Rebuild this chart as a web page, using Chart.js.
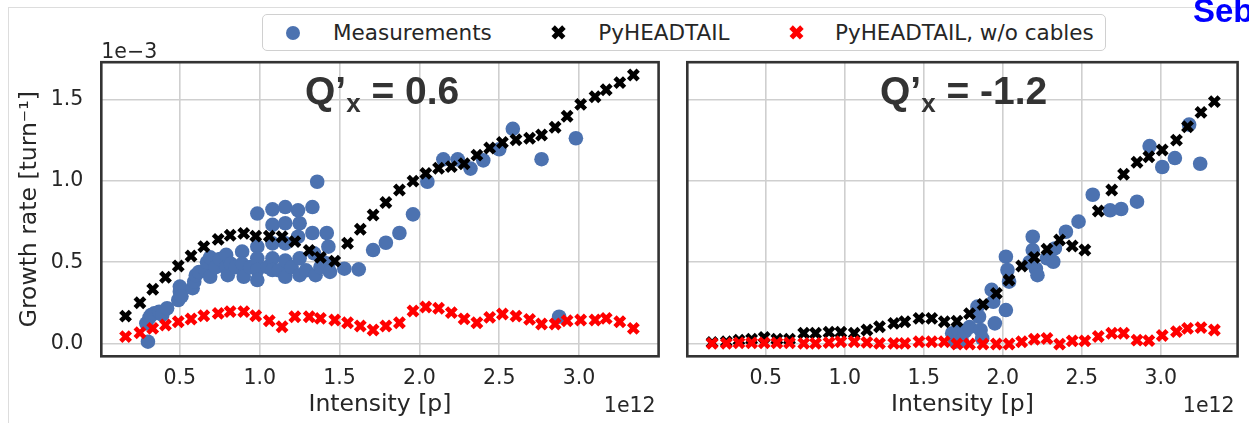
<!DOCTYPE html>
<html>
<head>
<meta charset="utf-8">
<script src="https://cdn.jsdelivr.net/npm/chart.js@4"></script>
<style>
  html, body { margin: 0; padding: 0; background: #fff; }
  #wrap { position: relative; width: 1249px; height: 423px; overflow: hidden; font-family: "DejaVu Sans", sans-serif; color: #262626; }
  #frame { position: absolute; left: 8px; top: 7px; width: 1300px; height: 500px; border-top: 1px solid #dddddd; border-left: 1px solid #dddddd; }
  canvas { position: absolute; top: 0; }
  #left { left: 0; }
  #right { left: 670px; }
  #legend { position: absolute; left: 262px; top: 14px; width: 844px; height: 37px; box-sizing: border-box;
            border: 1px solid #d0d0d0; border-radius: 5px; background: #fff; }
  .lbl { position: absolute; top: 21.8px; font-size: 21.5px; line-height: 21.5px; white-space: nowrap; }
  .dot { position: absolute; width: 14px; height: 14px; border-radius: 50%; background: #4c72b0; }
  .xm { position: absolute; width: 0; height: 0; }
  .xm::before, .xm::after { content: ''; position: absolute; left: -7.5px; top: -2.3px; width: 15px; height: 4.6px; background: currentColor; }
  .xm::before { transform: rotate(45deg); }
  .xm::after { transform: rotate(-45deg); }
  #seb { position: absolute; left: 1193px; top: -6.4px; font: bold 33px "Liberation Sans", sans-serif; line-height: 33px; color: #0000ff; }
</style>
</head>
<body>
<div id="wrap">
  <div id="frame"></div>
  <canvas id="left" width="670" height="423"></canvas>
  <canvas id="right" width="579" height="423"></canvas>
  <div id="legend"></div>
  <span class="dot" style="left:285.7px; top:25.7px"></span>
  <span class="lbl" style="left:333px">Measurements</span>
  <span class="xm" style="left:558.3px; top:32.3px; color:#000"></span>
  <span class="lbl" style="left:598.3px">PyHEADTAIL</span>
  <span class="xm" style="left:796px; top:32.7px; color:#ff0000"></span>
  <span class="lbl" style="left:835px">PyHEADTAIL, w/o cables</span>
  <div id="seb">Seb</div>
</div>
<script>
// intensity of the simulated points, in units of 1e12 p (same for both panels)
const simIntensity = [0.16, 0.25, 0.33, 0.41, 0.49, 0.57, 0.65, 0.74, 0.815, 0.90,
                      0.975, 1.06, 1.14, 1.22, 1.31, 1.38, 1.47, 1.55, 1.63, 1.71,
                      1.79, 1.875, 1.96, 2.04, 2.12, 2.20, 2.28, 2.36, 2.44, 2.52,
                      2.605, 2.69, 2.765, 2.85, 2.925, 3.01, 3.10, 3.17, 3.255, 3.34];

// growth rates in units of 1e-3 turn^-1
// Q'x = 0.6
const simLeft = [0.168, 0.25, 0.333, 0.407, 0.477, 0.538, 0.596, 0.641, 0.666, 0.678,
                 0.661, 0.661, 0.657, 0.627, 0.573, 0.53, 0.507, 0.617, 0.703, 0.791,
                 0.868, 0.945, 1.0, 1.048, 1.079, 1.089, 1.107, 1.16, 1.204, 1.238,
                 1.255, 1.264, 1.284, 1.332, 1.40, 1.473, 1.52, 1.563, 1.607, 1.654];
const simLeftNoCables = [0.041, 0.065, 0.092, 0.113, 0.133, 0.15, 0.17, 0.185, 0.195, 0.195,
                         0.17, 0.139, 0.102, 0.164, 0.164, 0.154, 0.144, 0.127, 0.107, 0.082,
                         0.107, 0.127, 0.199, 0.224, 0.216, 0.189, 0.151, 0.127, 0.16, 0.181,
                         0.168, 0.148, 0.119, 0.119, 0.139, 0.144, 0.144, 0.154, 0.133, 0.092];
const measLeftX = [0.30, 0.29, 0.31, 0.32, 0.34, 0.37, 0.39, 0.42, 0.49, 0.50,
                   0.50, 0.51, 0.58, 0.59, 0.60, 0.62, 0.66, 0.67, 0.69, 0.69,
                   0.725, 0.75, 0.79, 0.79, 0.80, 0.82, 0.85, 0.89, 0.89, 0.90,
                   0.94, 0.985, 0.985, 0.985, 0.985, 0.985, 1.05, 1.08, 1.08, 1.08,
                   1.08, 1.08, 1.12, 1.16, 1.16, 1.16, 1.16, 1.16, 1.20, 1.24,
                   1.25, 1.24, 1.25, 1.25, 1.29, 1.33, 1.33, 1.34, 1.35, 1.36,
                   1.38, 1.40, 1.42, 1.43, 1.43, 1.44, 1.53, 1.62, 1.71, 1.79,
                   1.875, 1.96, 2.05, 2.15, 2.24, 2.32, 2.40, 2.50, 2.585, 2.765,
                   2.875, 2.98];
const measLeftY = [0.01, 0.123, 0.16, 0.175, 0.185, 0.195, 0.175, 0.216, 0.267, 0.318,
                   0.35, 0.29, 0.34, 0.38, 0.42, 0.44, 0.45, 0.50, 0.53, 0.41,
                   0.47, 0.52, 0.545, 0.47, 0.42, 0.49, 0.47, 0.565, 0.49, 0.41,
                   0.47, 0.80, 0.596, 0.524, 0.452, 0.39, 0.47, 0.826, 0.73, 0.616,
                   0.524, 0.452, 0.45, 0.84, 0.74, 0.616, 0.51, 0.41, 0.47, 0.82,
                   0.74, 0.657, 0.524, 0.42, 0.45, 0.84, 0.68, 0.555, 0.42, 0.996,
                   0.47, 0.50, 0.68, 0.596, 0.49, 0.44, 0.46, 0.456, 0.575, 0.62,
                   0.68, 0.795, 0.996, 1.134, 1.134, 1.077, 1.128, 1.196, 1.322, 1.135,
                   0.164, 1.264];

// Q'x = -1.2
const simRight = [0.005, 0.01, 0.02, 0.025, 0.037, 0.025, 0.025, 0.062, 0.062, 0.068,
                  0.068, 0.062, 0.082, 0.102, 0.123, 0.133, 0.154, 0.154, 0.133, 0.136,
                  0.183, 0.24, 0.308, 0.39, 0.477, 0.53, 0.58, 0.637, 0.60, 0.575,
                  0.816, 0.945, 1.042, 1.116, 1.15, 1.192, 1.253, 1.335, 1.424, 1.49];
const simRightNoCables = [0.0, 0.0, 0.003, 0.003, 0.003, 0.003, 0.003, 0.0, 0.0, 0.004,
                          0.01, 0.01, 0.006, 0.0, 0.0, 0.0, 0.01, 0.01, 0.01, -0.004,
                          -0.004, -0.004, -0.004, -0.004, 0.01, 0.025, 0.03, -0.005, 0.015, 0.015,
                          0.042, 0.062, 0.062, 0.02, 0.017, 0.048, 0.072, 0.092, 0.097, 0.082];
const measRightX = [1.68, 1.70, 1.72, 1.74, 1.76, 1.79, 1.84, 1.85, 1.86, 1.87,
                    1.93, 1.94, 1.95, 2.02, 2.02, 2.03, 2.04, 2.17, 2.19, 2.19,
                    2.21, 2.22, 2.28, 2.32, 2.33, 2.40, 2.48, 2.57, 2.68, 2.75,
                    2.85, 2.93, 3.01, 3.09, 3.18, 3.25];
const measRightY = [0.062, 0.01, 0.082, 0.02, 0.072, 0.10, 0.226, 0.164, 0.082, 0.03,
                    0.33, 0.256, 0.123, 0.205, 0.534, 0.452, 0.38, 0.50, 0.657, 0.575,
                    0.46, 0.42, 0.524, 0.503, 0.585, 0.688, 0.75, 0.916, 0.82, 0.828,
                    0.873, 1.216, 1.087, 1.142, 1.348, 1.107];

const textColor = '#262626';
const blue = '#4c72b0';

// dark box round the plot area
const framePlugin = {
  id: 'frame',
  afterDraw(chart) {
    const { ctx, chartArea: a } = chart;
    ctx.save();
    ctx.strokeStyle = '#333333';
    ctx.lineWidth = 2.6;
    ctx.strokeRect(a.left, a.top, a.right - a.left, a.bottom - a.top);
    ctx.restore();
  }
};

// Q'x label and the 1e-3 / 1e12 offset texts
const textPlugin = {
  id: 'texts',
  afterDatasetsDraw(chart, args, opts) {
    const { ctx, chartArea: a } = chart;
    ctx.save();
    ctx.fillStyle = '#333333';
    ctx.textBaseline = 'alphabetic';
    let x = a.left + opts.dx;
    const y = 103.5;
    ctx.font = 'bold 39px "Liberation Sans"';
    ctx.fillText('Q’', x, y);
    x += ctx.measureText('Q’').width;
    ctx.font = 'bold 26px "Liberation Sans"';
    ctx.fillText('x', x, y + 8.5);
    x += ctx.measureText('x').width;
    ctx.font = 'bold 39px "Liberation Sans"';
    ctx.fillText(' = ' + opts.q, x, y);

    ctx.fillStyle = textColor;
    ctx.font = '20.5px "DejaVu Sans"';
    if (opts.yOffset) {
      ctx.textAlign = 'left';
      ctx.fillText(opts.yOffset, a.left, 58);
    }
    ctx.textAlign = 'right';
    ctx.fillText('1e12', a.right - 3, 412);
    ctx.restore();
  }
};

function points(xs, ys) {
  return xs.map((x, i) => ({ x: x, y: ys[i] }));
}

function makePanel(id, p) {
  return new Chart(document.getElementById(id), {
    type: 'scatter',
    data: {
      datasets: [
        { label: 'PyHEADTAIL, w/o cables', data: points(simIntensity, p.noCables), order: 0,
          pointStyle: 'crossRot', pointRadius: 6.8, borderWidth: 4.6, borderColor: '#ff0000', backgroundColor: '#ff0000' },
        { label: 'PyHEADTAIL', data: points(simIntensity, p.sim), order: 1,
          pointStyle: 'crossRot', pointRadius: 6.8, borderWidth: 4.6, borderColor: '#000000', backgroundColor: '#000000' },
        { label: 'Measurements', data: points(p.measX, p.measY), order: 2,
          pointStyle: 'circle', pointRadius: 7.3, borderWidth: 0, backgroundColor: blue }
      ]
    },
    options: {
      responsive: false,
      animation: false,
      events: [],
      layout: { padding: { left: 0, top: 62.2, right: p.padRight, bottom: 0 } },
      plugins: {
        legend: { display: false },
        tooltip: { enabled: false },
        texts: { dx: p.dx, q: p.q, yOffset: p.yOffset }
      },
      scales: {
        x: {
          type: 'linear',
          min: p.xMin,
          max: p.xMax,
          afterFit: s => { s.height = 66.7; },
          grid: { color: '#cfcfcf', lineWidth: 1.6, drawTicks: false },
          border: { display: false },
          ticks: { stepSize: 0.5, includeBounds: false, padding: 10, color: textColor,
                   font: { family: 'DejaVu Sans', size: 20.5 }, callback: v => v.toFixed(1) },
          title: { display: true, text: 'Intensity [p]', color: textColor,
                   font: { family: 'DejaVu Sans', size: 23.5 }, padding: { top: 0, bottom: 4 } }
        },
        y: {
          type: 'linear',
          min: -0.080,
          max: 1.733,
          afterFit: s => { s.width = p.yWidth; },
          grid: { color: '#cfcfcf', lineWidth: 1.6, drawTicks: false },
          border: { display: false },
          ticks: { display: p.showY, stepSize: 0.5, includeBounds: false, padding: 18, color: textColor,
                   font: { family: 'DejaVu Sans', size: 20.5 }, callback: v => v.toFixed(1) },
          title: { display: p.showY, text: 'Growth rate [turn⁻¹]', color: textColor,
                   font: { family: 'DejaVu Sans', size: 23.5 }, padding: { top: 16, bottom: 0 } }
        }
      }
    },
    plugins: [framePlugin, textPlugin]
  });
}

makePanel('left', {
  sim: simLeft, noCables: simLeftNoCables, measX: measLeftX, measY: measLeftY,
  xMin: 0.008, xMax: 3.498, yWidth: 101.3, padRight: 7, showY: true,
  dx: 203.7, q: '0.6', yOffset: '1e\u22123'
});

makePanel('right', {
  sim: simRight, noCables: simRightNoCables, measX: measRightX, measY: measRightY,
  xMin: 0.003, xMax: 3.487, yWidth: 17.3, padRight: 1, showY: false,
  dx: 192.7, q: '-1.2', yOffset: null
});
</script>
</body>
</html>
